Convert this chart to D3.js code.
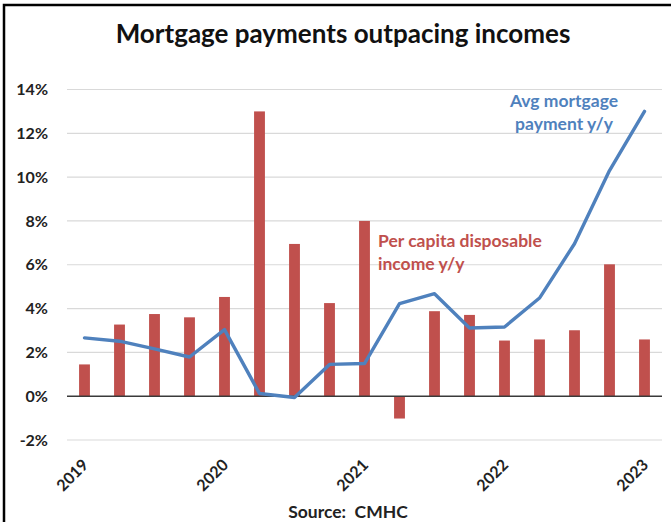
<!DOCTYPE html>
<html>
<head>
<meta charset="utf-8">
<script src="https://cdn.jsdelivr.net/npm/d3@7"></script>
<style>
  html, body { margin: 0; padding: 0; background: #fff; }
  svg { display: block; font-family: Lato, "Open Sans", sans-serif; }
</style>
</head>
<body>
<svg id="chart" width="671" height="522"></svg>
<script>
// Quarterly y/y changes, 2019 Q1 through 2023 Q1
const quarters = ["2019Q1","2019Q2","2019Q3","2019Q4","2020Q1","2020Q2","2020Q3","2020Q4",
                  "2021Q1","2021Q2","2021Q3","2021Q4","2022Q1","2022Q2","2022Q3","2022Q4","2023Q1"];
const incomeGrowth = [1.45, 3.27, 3.75, 3.6, 4.53, 13.0, 6.95, 4.25,
                      8.0, -1.02, 3.88, 3.71, 2.54, 2.59, 3.01, 6.02, 2.59];
const mortgageGrowth = [2.66, 2.51, 2.16, 1.79, 3.04, 0.12, -0.06, 1.45,
                        1.49, 4.23, 4.68, 3.11, 3.16, 4.48, 6.96, 10.3, 13.0];
const yTicks = [-2, 0, 2, 4, 6, 8, 10, 12, 14];
const yearLabels = ["2019Q1","2020Q1","2021Q1","2022Q1","2023Q1"];

const svg = d3.select("#chart");
const plotLeft = 67, plotRight = 662, plotTop = 89.5, plotBottom = 440;

const x = d3.scaleBand().domain(quarters).range([plotLeft, plotRight]).paddingInner(0.69).paddingOuter(0.345);
const y = d3.scaleLinear().domain([-2, 14]).range([plotBottom, plotTop]);

// frame
svg.append("path")
  .attr("d", `M4,522 L4,5 L671,5`)
  .attr("fill", "none").attr("stroke", "#000").attr("stroke-width", 2.5);

// title
svg.append("text")
  .attr("x", 343).attr("y", 43)
  .attr("text-anchor", "middle")
  .attr("font-size", 26).attr("font-weight", 700).attr("fill", "#111")
  .text("Mortgage payments outpacing incomes");

// gridlines
svg.append("g").selectAll("line").data(yTicks.filter(d => d !== 0)).join("line")
  .attr("x1", plotLeft).attr("x2", plotRight)
  .attr("y1", d => y(d)).attr("y2", d => y(d))
  .attr("stroke", "#d9d9d9").attr("stroke-width", 1.2);

// y axis labels
const yAxis = d3.axisLeft(y).tickValues(yTicks).tickFormat(d => d + "%").tickSize(0).tickPadding(0);
const yg = svg.append("g").attr("transform", `translate(48,0)`).call(yAxis);
yg.select(".domain").remove();
yg.selectAll("text").attr("font-size", 16).attr("font-weight", 700).attr("fill", "#222")
  .attr("font-family", "Lato, 'Open Sans', sans-serif");

// income bars
svg.append("g").selectAll("rect").data(quarters).join("rect")
  .attr("x", (d) => x(d))
  .attr("width", x.bandwidth())
  .attr("y", (d, i) => y(Math.max(0, incomeGrowth[i])))
  .attr("height", (d, i) => Math.abs(y(incomeGrowth[i]) - y(0)))
  .attr("fill", "#c0504d");

// zero line
svg.append("line")
  .attr("x1", plotLeft).attr("x2", plotRight)
  .attr("y1", y(0)).attr("y2", y(0))
  .attr("stroke", "#3a3a3a").attr("stroke-width", 1.5);

// mortgage payment line
const line = d3.line()
  .x((d, i) => x(quarters[i]) + x.bandwidth() / 2)
  .y(d => y(d));
svg.append("path").datum(mortgageGrowth)
  .attr("d", line)
  .attr("fill", "none").attr("stroke", "#4f81bd").attr("stroke-width", 3.4)
  .attr("stroke-linejoin", "round").attr("stroke-linecap", "round");

// x axis year labels
const xg = svg.append("g");
xg.selectAll("text").data(yearLabels).join("text")
  .attr("transform", d => `translate(${x(d) + x.bandwidth() / 2 - 3},${458}) rotate(-45)`)
  .attr("text-anchor", "end")
  .attr("dy", "0.7em")
  .attr("font-size", 16).attr("font-weight", 700).attr("fill", "#222")
  .text(d => d.slice(0, 4));

// series labels
const blue = "#4f81bd", red = "#c0504d";
svg.append("text").attr("x", 564).attr("y", 107).attr("text-anchor", "middle")
  .attr("font-size", 17.5).attr("font-weight", 700).attr("fill", blue).text("Avg mortgage");
svg.append("text").attr("x", 564).attr("y", 130).attr("text-anchor", "middle")
  .attr("font-size", 17.5).attr("font-weight", 700).attr("fill", blue).text("payment y/y");
svg.append("text").attr("x", 378).attr("y", 247)
  .attr("font-size", 17.5).attr("font-weight", 700).attr("fill", red).text("Per capita disposable");
svg.append("text").attr("x", 378).attr("y", 270)
  .attr("font-size", 17.5).attr("font-weight", 700).attr("fill", red).text("income y/y");

// source
svg.append("text").attr("x", 348).attr("y", 518).attr("text-anchor", "middle")
  .attr("font-size", 17.5).attr("font-weight", 700).attr("fill", "#222")
  .attr("xml:space", "preserve")
  .text("Source:  CMHC");
</script>
</body>
</html>
